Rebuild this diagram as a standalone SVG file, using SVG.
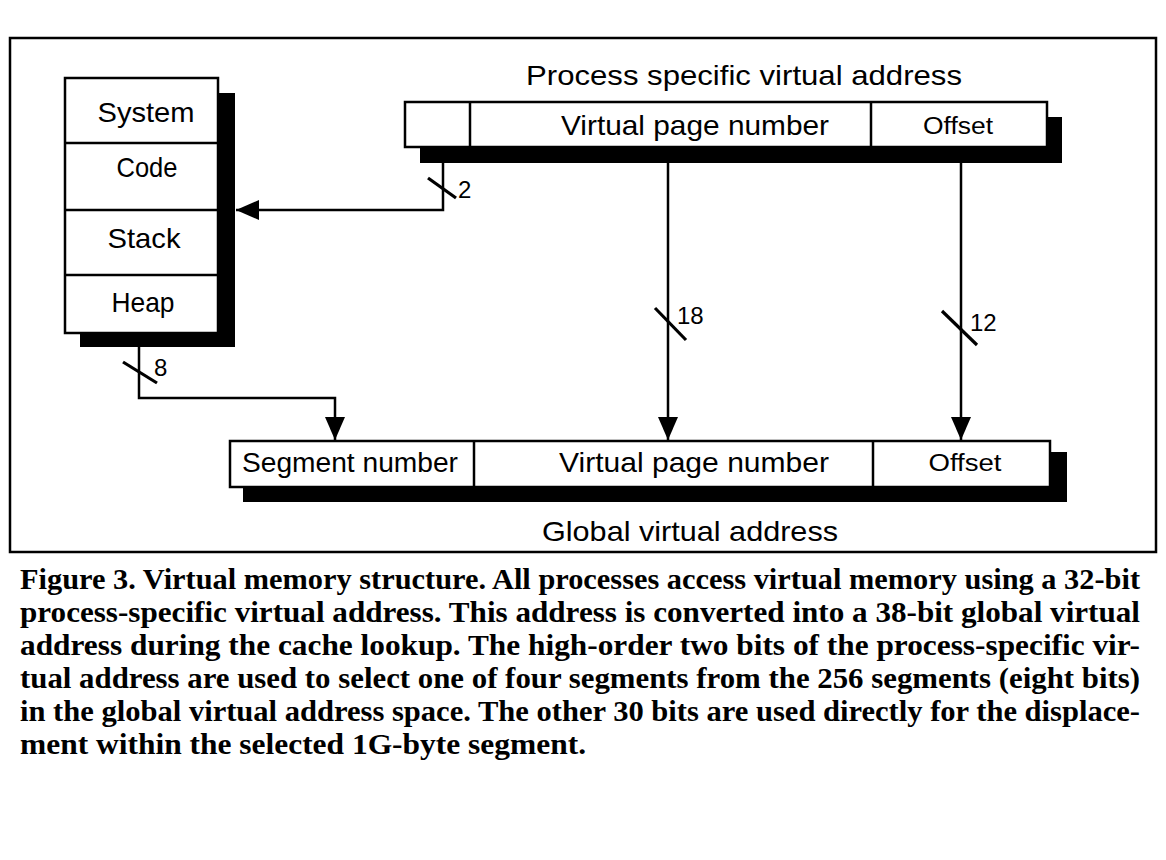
<svg xmlns="http://www.w3.org/2000/svg" width="1166" height="860" viewBox="0 0 1166 860">
<style>
.bx{fill:#fff;stroke:#000;stroke-width:2.5}
.sh{fill:#000}
.ln{fill:none;stroke:#000;stroke-width:2.5}
.sl{fill:none;stroke:#000;stroke-width:3.2}
.t{font-family:"Liberation Sans",Arial,sans-serif;fill:#000}
.lb{font-family:"Liberation Sans",Arial,sans-serif;font-size:24px;fill:#000}
.cap{font-family:"Liberation Serif","Times New Roman",serif;font-weight:bold;font-size:29px;fill:#000}
</style>
<defs>
<marker id="ah" markerWidth="24" markerHeight="20" refX="23" refY="10" orient="auto" markerUnits="userSpaceOnUse">
<path d="M0,0 L23,10 L0,20 Z" fill="#000"/>
</marker>
</defs>
<rect x="10" y="38" width="1146" height="514" fill="#fff" stroke="#000" stroke-width="2.5"/>

<g id="segments">
<rect class="sh" x="218" y="93" width="17" height="254"/>
<rect class="sh" x="80" y="333" width="155" height="14"/>
<rect class="bx" x="65" y="78" width="153" height="255"/>
<line class="ln" x1="65" y1="143" x2="218" y2="143"/>
<line class="ln" x1="65" y1="210" x2="218" y2="210"/>
<line class="ln" x1="65" y1="275" x2="218" y2="275"/>
<text class="t" x="146" y="122" font-size="28" text-anchor="middle" textLength="97" lengthAdjust="spacingAndGlyphs">System</text>
<text class="t" x="147" y="177" font-size="28" text-anchor="middle" textLength="61" lengthAdjust="spacingAndGlyphs">Code</text>
<text class="t" x="144" y="248" font-size="28" text-anchor="middle" textLength="73" lengthAdjust="spacingAndGlyphs">Stack</text>
<text class="t" x="143" y="312" font-size="28" text-anchor="middle" textLength="63" lengthAdjust="spacingAndGlyphs">Heap</text>
</g>

<g id="process-address">
<text class="t" x="744" y="85" font-size="28" text-anchor="middle" textLength="436" lengthAdjust="spacingAndGlyphs">Process specific virtual address</text>
<rect class="sh" x="1047" y="117" width="15" height="46"/>
<rect class="sh" x="420" y="147" width="642" height="16"/>
<rect class="bx" x="405" y="102" width="642" height="45"/>
<line class="ln" x1="470" y1="102" x2="470" y2="147"/>
<line class="ln" x1="871" y1="102" x2="871" y2="147"/>
<text class="t" x="695" y="135" font-size="28" text-anchor="middle" textLength="268" lengthAdjust="spacingAndGlyphs">Virtual page number</text>
<text class="t" x="958" y="134" font-size="23" text-anchor="middle" textLength="70" lengthAdjust="spacingAndGlyphs">Offset</text>
</g>

<g id="global-address">
<rect class="sh" x="1050" y="452" width="17" height="50"/>
<rect class="sh" x="243" y="487" width="824" height="15"/>
<rect class="bx" x="230" y="441" width="820" height="46"/>
<line class="ln" x1="474" y1="441" x2="474" y2="487"/>
<line class="ln" x1="873" y1="441" x2="873" y2="487"/>
<text class="t" x="350" y="472" font-size="27" text-anchor="middle" textLength="216" lengthAdjust="spacingAndGlyphs">Segment number</text>
<text class="t" x="694" y="472" font-size="28" text-anchor="middle" textLength="270" lengthAdjust="spacingAndGlyphs">Virtual page number</text>
<text class="t" x="965" y="471" font-size="23" text-anchor="middle" textLength="73" lengthAdjust="spacingAndGlyphs">Offset</text>
<text class="t" x="690" y="541" font-size="28" text-anchor="middle" textLength="296" lengthAdjust="spacingAndGlyphs">Global virtual address</text>
</g>

<g id="connectors">
<polyline class="ln" points="443,163 443,210 236,210" marker-end="url(#ah)"/>
<line class="sl" x1="428" y1="178" x2="456" y2="198"/>
<text class="lb" x="458" y="198">2</text>

<line class="ln" x1="668" y1="163" x2="668" y2="440" marker-end="url(#ah)"/>
<line class="sl" x1="655" y1="308" x2="686" y2="340"/>
<text class="lb" x="677" y="324">18</text>

<line class="ln" x1="961" y1="163" x2="961" y2="440" marker-end="url(#ah)"/>
<line class="sl" x1="942" y1="311" x2="977" y2="345"/>
<text class="lb" x="970" y="331">12</text>

<polyline class="ln" points="139,347 139,398 335,398 335,440" marker-end="url(#ah)"/>
<line class="sl" x1="123" y1="362" x2="157" y2="383"/>
<text class="lb" x="154" y="376">8</text>
</g>

<g id="caption">
<text class="cap" x="20" y="589" textLength="1120" lengthAdjust="spacingAndGlyphs">Figure 3. Virtual memory structure. All processes access virtual memory using a 32-bit</text>
<text class="cap" x="20" y="622" textLength="1120" lengthAdjust="spacingAndGlyphs">process-specific virtual address. This address is converted into a 38-bit global virtual</text>
<text class="cap" x="20" y="655" textLength="1120" lengthAdjust="spacingAndGlyphs">address during the cache lookup. The high-order two bits of the process-specific vir-</text>
<text class="cap" x="20" y="688" textLength="1120" lengthAdjust="spacingAndGlyphs">tual address are used to select one of four segments from the 256 segments (eight bits)</text>
<text class="cap" x="20" y="721" textLength="1120" lengthAdjust="spacingAndGlyphs">in the global virtual address space. The other 30 bits are used directly for the displace-</text>
<text class="cap" x="20" y="754" textLength="566" lengthAdjust="spacingAndGlyphs">ment within the selected 1G-byte segment.</text>
</g>
</svg>
